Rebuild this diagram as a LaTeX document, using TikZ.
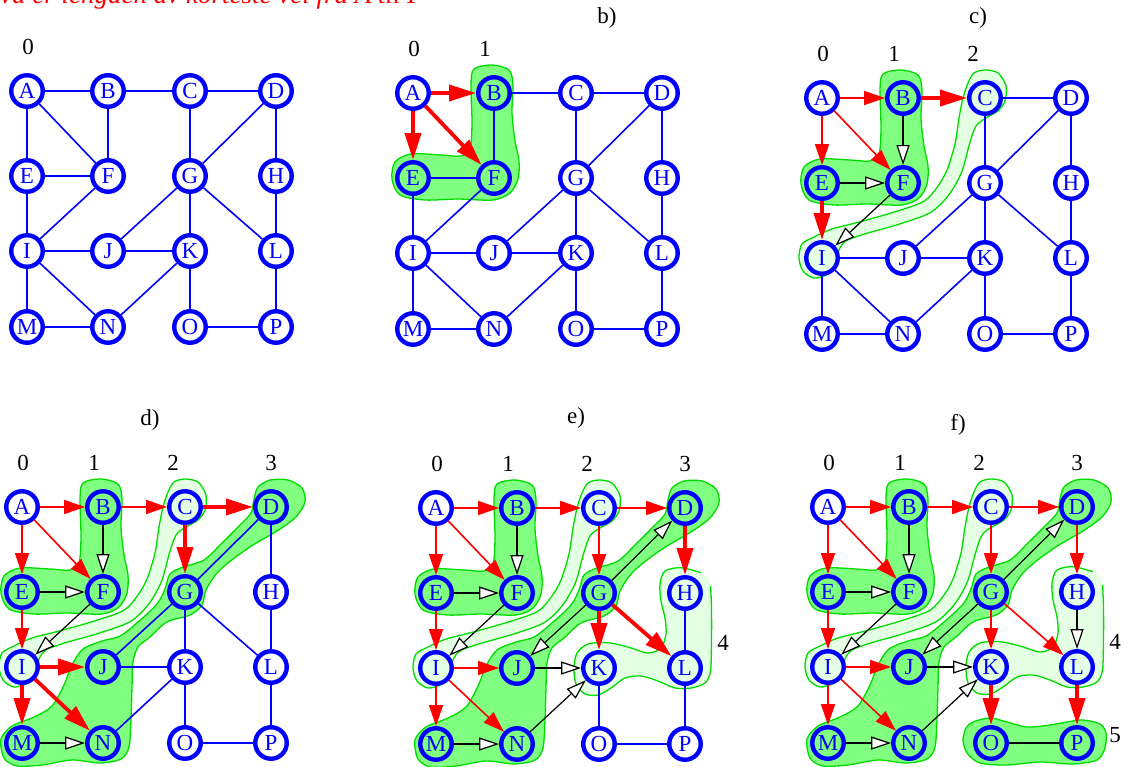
\documentclass[tikz,border=0pt]{standalone}
\usepackage{fontspec}
\setmainfont{Liberation Serif}
\usetikzlibrary{arrows.meta}

\definecolor{vblue}{RGB}{0,0,255}
\definecolor{vred}{RGB}{255,0,0}
\definecolor{gdark}{RGB}{128,255,128}
\definecolor{glight}{RGB}{228,255,228}
\definecolor{gline}{RGB}{0,220,0}

\tikzset{
  vx/.style={circle, draw=vblue, line width=4.4pt, minimum size=31.5pt, inner sep=0pt,
             text=vblue, font=\fontsize{23}{23}\selectfont},
  ed/.style={draw=vblue, line width=1.6pt},
  rthin/.style={draw=vred, line width=1.6pt, -{Triangle[length=21pt,width=14pt]}},
  rthick/.style={draw=vred, line width=3.8pt, -{Triangle[length=27pt,width=16pt]}},
  bopen/.style={draw=black, line width=1.2pt, -{Triangle[length=20pt,width=13pt,fill=white]}},
  bline/.style={draw=black, line width=1.2pt},
  bdark/.style={draw=gline, line width=1.3pt, fill=gdark},
  blight/.style={draw=gline, line width=1.3pt, fill=glight},
  hull/.style={draw=gline, line width=1.3pt},
  colnum/.style={font=\fontsize{23}{23}\selectfont, inner sep=0pt},
  ptitle/.style={font=\fontsize{23}{23}\selectfont, inner sep=0pt},
}

% the sixteen vertices of the grid graph, local coordinates (origin at A)
\newcommand\vertices{%
  \foreach \n/\px/\py in {A/0/0,B/81/0,C/163/0,D/249/0,
                          E/0/85,F/81/85,G/163/85,H/249/85,
                          I/0/160,J/81/160,K/163/160,L/249/160,
                          M/0/236,N/81/236,O/163/236,P/249/236}
    {\node[vx] (\n) at (\px,\py) {\n};}%
}

% level sets drawn as hand-made hulls
\newcommand\blobone[1]{\path[#1] plot[smooth cycle] coordinates {
  (61,-24) (79,-28) (96,-23) (100,-8) (99,20) (102,48) (106,68) (105,86) (97,100)
  (80,107) (45,106) (12,107) (-13,102) (-21,86) (-18,69) (-2,61) (28,62) (48,63)
  (57,56) (59,30) (58,-8)};}
\newcommand\blobtwo[1]{\path[#1] plot[smooth cycle] coordinates {
  (152,-25) (163,-28) (176,-25) (184,-12) (183,3) (176,13) (164,20) (154,28)
  (147.5,46) (139.5,74.5) (126.6,97.2) (108.3,114.6) (77,126.2) (42,136.2) (24,143)
  (17,152) (14,165) (6,176) (-8,180) (-19,173) (-23,160) (-20,146) (-8,139) (10,131)
  (38,123.8) (73,113.8) (101.7,103.4) (115.4,88.8) (125,72) (133,46) (137,20)
  (141,0) (146,-15)};}
\newcommand\blobthree[1]{\path[#1] plot[smooth cycle] coordinates {
  (236,-20) (248,-27) (266,-27) (280,-19) (283,-5) (274,10) (255,24) (231,38)
  (211,52) (195,66) (184,83) (180,98) (168,108) (145,115) (128,130) (116,140)
  (111,155) (110,180) (109,212) (107,240) (99,252) (78,256) (50,253) (20,258)
  (-5,259) (-18,251) (-21,232) (-10,219) (12,210) (30,199) (42,178) (50,158)
  (61,142) (80,134) (98,129) (116,115) (135,97) (143,82) (148,67) (161,60)
  (182,53) (200,36) (217,19) (229,6) (232,-8)};}
% level 4: filled hull, outline left open at its top right corner
\newcommand\blobfour{%
  \path[fill=glight] plot[smooth cycle] coordinates {
  (229,63) (245,59.7) (265,64.7) (274,75) (275.5,100) (275.5,133) (274.5,163)
  (269,175) (255,180) (239,180) (222,173) (205,168) (189,170) (175,180) (162,187)
  (149,186) (140,176) (138,160) (141,145) (152,136) (172,134.7) (192,139) (212,145)
  (225,140) (230,126) (229,110) (225,93) (224,76)};
  \path[hull] plot[smooth] coordinates {
  (274.6,78) (275.5,100) (275.5,133) (274.5,163)
  (269,175) (255,180) (239,180) (222,173) (205,168) (189,170) (175,180) (162,187)
  (149,186) (140,176) (138,160) (141,145) (152,136) (172,134.7) (192,139) (212,145)
  (225,140) (230,126) (229,110) (225,93) (224,76) (229,63) (245,59.7) (265,64.7)};}
\newcommand\blobfive[1]{\path[#1] plot[smooth cycle] coordinates {
  (145,215) (162,211) (179,215) (199,220) (222,218) (239,215) (255,213) (272,217)
  (278,226) (277,241) (269,253) (245,257) (212,255) (179,258) (152,256) (139,246)
  (135,233) (138,221)};}

\begin{document}
\begin{tikzpicture}[x=1pt,y=-1pt]
\useasboundingbox (0,0) rectangle (1129,767);
\clip (0,0) rectangle (1129,767);
\fill[white] (0,0) rectangle (1129,767);

% heading, running off the top edge
\node[anchor=base west, inner sep=0pt, text=vred,
      font=\fontsize{27}{27}\selectfont\itshape] (head) at (0,4)
      {\llap{H}va er lengden av korteste vei fra A til P};

% panel titles
\node[ptitle] (tb) at (607,18) {b)};
\node[ptitle] (tc) at (978,18) {c)};
\node[ptitle] (td) at (150,420) {d)};
\node[ptitle] (te) at (576,418) {e)};
\node[ptitle] (tf) at (958,425) {f)};

% ---------- a) ----------
\begin{scope}[shift={(27,91)}, name prefix=a-]
  \vertices
  \node[colnum] (c0) at (1,-44) {0};
  \foreach \u/\v in {A/B,B/C,C/D,A/E,A/F,B/F,E/F,C/G,D/G,D/H,E/I,F/I,G/J,G/K,G/L,
                     H/L,I/J,J/K,I/M,I/N,K/N,K/O,L/P,M/N,O/P}
    \draw[ed] (\u) -- (\v);
\end{scope}

% ---------- b) ----------
\begin{scope}[shift={(413,93)}, name prefix=b-]
  \blobone{bdark}
  \vertices
  \node[colnum] (c0) at (1,-44) {0};
  \node[colnum] (c1) at (72,-44) {1};
  \foreach \u/\v in {A/B,A/E,A/F} \draw[rthick] (\u) -- (\v);
  \foreach \u/\v in {B/C,C/D,B/F,E/F,C/G,D/G,D/H,E/I,F/I,G/J,G/K,G/L,H/L,I/J,J/K,
                     I/M,I/N,K/N,K/O,L/P,M/N,O/P}
    \draw[ed] (\u) -- (\v);
\end{scope}

% ---------- c) ----------
\begin{scope}[shift={(822,98)}, name prefix=c-]
  \blobone{bdark}
  \blobtwo{blight}
  \vertices
  \node[colnum] (c0) at (1,-44) {0};
  \node[colnum] (c1) at (72,-44) {1};
  \node[colnum] (c2) at (151,-44) {2};
  \foreach \u/\v in {A/B,A/E,A/F} \draw[rthin] (\u) -- (\v);
  \foreach \u/\v in {B/C,E/I} \draw[rthick] (\u) -- (\v);
  \foreach \u/\v in {B/F,E/F,F/I} \draw[bopen] (\u) -- (\v);
  \foreach \u/\v in {C/D,C/G,D/G,D/H,G/J,G/K,G/L,H/L,I/J,J/K,I/M,I/N,K/N,K/O,L/P,
                     M/N,O/P}
    \draw[ed] (\u) -- (\v);
\end{scope}

% ---------- d) ----------
\begin{scope}[shift={(22,507)}, name prefix=d-]
  \blobone{bdark}
  \blobtwo{blight}
  \blobthree{bdark}
  \vertices
  \node[colnum] (c0) at (1,-44) {0};
  \node[colnum] (c1) at (72,-44) {1};
  \node[colnum] (c2) at (151,-44) {2};
  \node[colnum] (c3) at (249,-44) {3};
  \foreach \u/\v in {A/B,A/E,A/F,B/C,E/I} \draw[rthin] (\u) -- (\v);
  \foreach \u/\v in {B/F,E/F,F/I,M/N} \draw[bopen] (\u) -- (\v);
  \foreach \u/\v in {C/D,C/G,I/J,I/M,I/N} \draw[rthick] (\u) -- (\v);
  \foreach \u/\v in {D/G,D/H,G/J,G/K,G/L,H/L,J/K,K/N,K/O,L/P,O/P}
    \draw[ed] (\u) -- (\v);
\end{scope}

% ---------- e) ----------
\begin{scope}[shift={(436,508)}, name prefix=e-]
  \blobone{bdark}
  \blobtwo{blight}
  \blobthree{bdark}
  \blobfour
  \vertices
  \node[colnum] (c0) at (1,-44) {0};
  \node[colnum] (c1) at (72,-44) {1};
  \node[colnum] (c2) at (151,-44) {2};
  \node[colnum] (c3) at (249,-44) {3};
  \node[colnum] (c4) at (287,135) {4};
  \foreach \u/\v in {A/B,A/E,A/F,B/C,E/I,C/D,C/G,I/J,I/M,I/N} \draw[rthin] (\u) -- (\v);
  \foreach \u/\v in {B/F,E/F,F/I,M/N,G/D,G/J,J/K,N/K} \draw[bopen] (\u) -- (\v);
  \foreach \u/\v in {D/H,G/K,G/L} \draw[rthick] (\u) -- (\v);
  \foreach \u/\v in {H/L,K/O,L/P,O/P} \draw[ed] (\u) -- (\v);
\end{scope}

% ---------- f) ----------
\begin{scope}[shift={(828,507)}, name prefix=f-]
  \blobone{bdark}
  \blobtwo{blight}
  \blobthree{bdark}
  \blobfour
  \blobfive{bdark}
  \vertices
  \node[colnum] (c0) at (1,-44) {0};
  \node[colnum] (c1) at (72,-44) {1};
  \node[colnum] (c2) at (151,-44) {2};
  \node[colnum] (c3) at (249,-44) {3};
  \node[colnum] (c4) at (287,135) {4};
  \node[colnum] (c5) at (287,228) {5};
  \foreach \u/\v in {A/B,A/E,A/F,B/C,E/I,C/D,C/G,I/J,I/M,I/N,D/H,G/K,G/L}
    \draw[rthin] (\u) -- (\v);
  \foreach \u/\v in {B/F,E/F,F/I,M/N,G/D,G/J,J/K,N/K,H/L} \draw[bopen] (\u) -- (\v);
  \draw[bline] (O) -- (P);
  \foreach \u/\v in {K/O,L/P} \draw[rthick] (\u) -- (\v);
\end{scope}
\end{tikzpicture}
\end{document}
